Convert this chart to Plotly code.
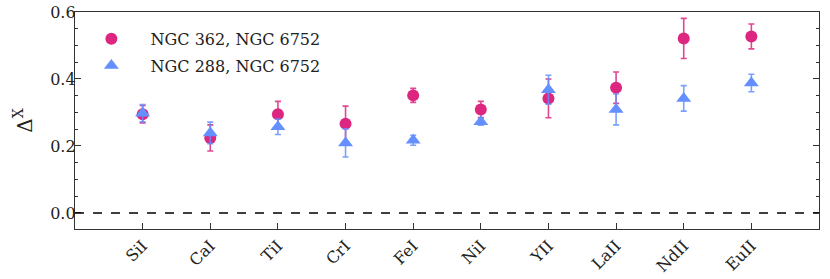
import plotly.graph_objects as go

elements = ["SiI", "CaI", "TiI", "CrI", "FeI", "NiI", "YII", "LaII", "NdII", "EuII"]

ngc362_vals = [0.295, 0.224, 0.295, 0.266, 0.351, 0.309, 0.342, 0.374, 0.521, 0.527]
ngc362_errs = [0.026, 0.039, 0.038, 0.053, 0.021, 0.024, 0.058, 0.047, 0.060, 0.037]

ngc288_vals = [0.298, 0.239, 0.257, 0.209, 0.217, 0.272, 0.368, 0.309, 0.342, 0.388]
ngc288_errs = [0.026, 0.032, 0.023, 0.042, 0.015, 0.010, 0.043, 0.046, 0.038, 0.026]

RED = "#DC267F"
BLUE = "#648FFF"
FONT = "DejaVu Serif"

x_idx = list(range(len(elements)))

fig = go.Figure()
fig.add_trace(go.Scatter(
    x=x_idx, y=ngc362_vals, mode="markers",
    name="\u2002\u2002\u2009NGC 362, NGC 6752", legendgroup="a",
    marker=dict(symbol="circle", size=12, color=RED),
    error_y=dict(type="data", array=ngc362_errs, visible=True,
                 color="rgba(220,38,127,0.85)", thickness=1.6, width=3),
))
fig.add_trace(go.Scatter(
    x=x_idx, y=ngc288_vals, mode="markers",
    name="\u2002\u2002\u2009NGC 288, NGC 6752", legendgroup="b",
    marker=dict(symbol="triangle-up", size=13, color=BLUE),
    error_y=dict(type="data", array=ngc288_errs, visible=True,
                 color="rgba(100,143,255,0.85)", thickness=1.6, width=3),
))

fig.add_shape(type="line", xref="paper", yref="y", x0=0, x1=1, y0=0, y1=0,
              line=dict(color="black", width=1.4, dash="dash"))

fig.update_layout(
    width=830, height=279,
    margin=dict(l=75, r=11, t=12, b=50, autoexpand=False),
    paper_bgcolor="white", plot_bgcolor="white",
    font=dict(family=FONT, size=15, color="#222"),
    showlegend=True,
    legend=dict(x=0.022, y=0.955, xanchor="left", yanchor="top",
                bgcolor="rgba(0,0,0,0)", font=dict(size=16, family=FONT),
                tracegroupgap=3),
)
fig.update_xaxes(
    range=[-1, 10], tickmode="array", tickvals=x_idx, ticktext=elements,
    tickangle=-45, ticks="inside", ticklen=6, tickwidth=1.2, tickcolor="#333",
    showline=True, linecolor="#333", linewidth=1.3, mirror=True,
    showgrid=False, zeroline=False, automargin=False,
    tickfont=dict(size=16, family=FONT),
)
fig.update_yaxes(
    range=[-0.048, 0.6], tickmode="array", tickvals=[0.0, 0.2, 0.4, 0.6],
    ticktext=["0.0", "0.2", "0.4", "0.6"],
    ticks="inside", ticklen=6, tickwidth=1.2, tickcolor="#333",
    minor=dict(ticks="inside", ticklen=3, dtick=0.05, tick0=0, tickcolor="#333", showgrid=False),
    showline=True, linecolor="#333", linewidth=1.3, mirror="allticks",
    showgrid=False, zeroline=False, automargin=False,
    tickfont=dict(size=16, family=FONT), ticklabelstandoff=-5,
    title=dict(text="Δ<sup>X</sup>", font=dict(size=20, family=FONT), standoff=12),
)

fig.write_html("out.html", config={"displayModeBar": False},
               post_script="document.body.style.margin='0';")
